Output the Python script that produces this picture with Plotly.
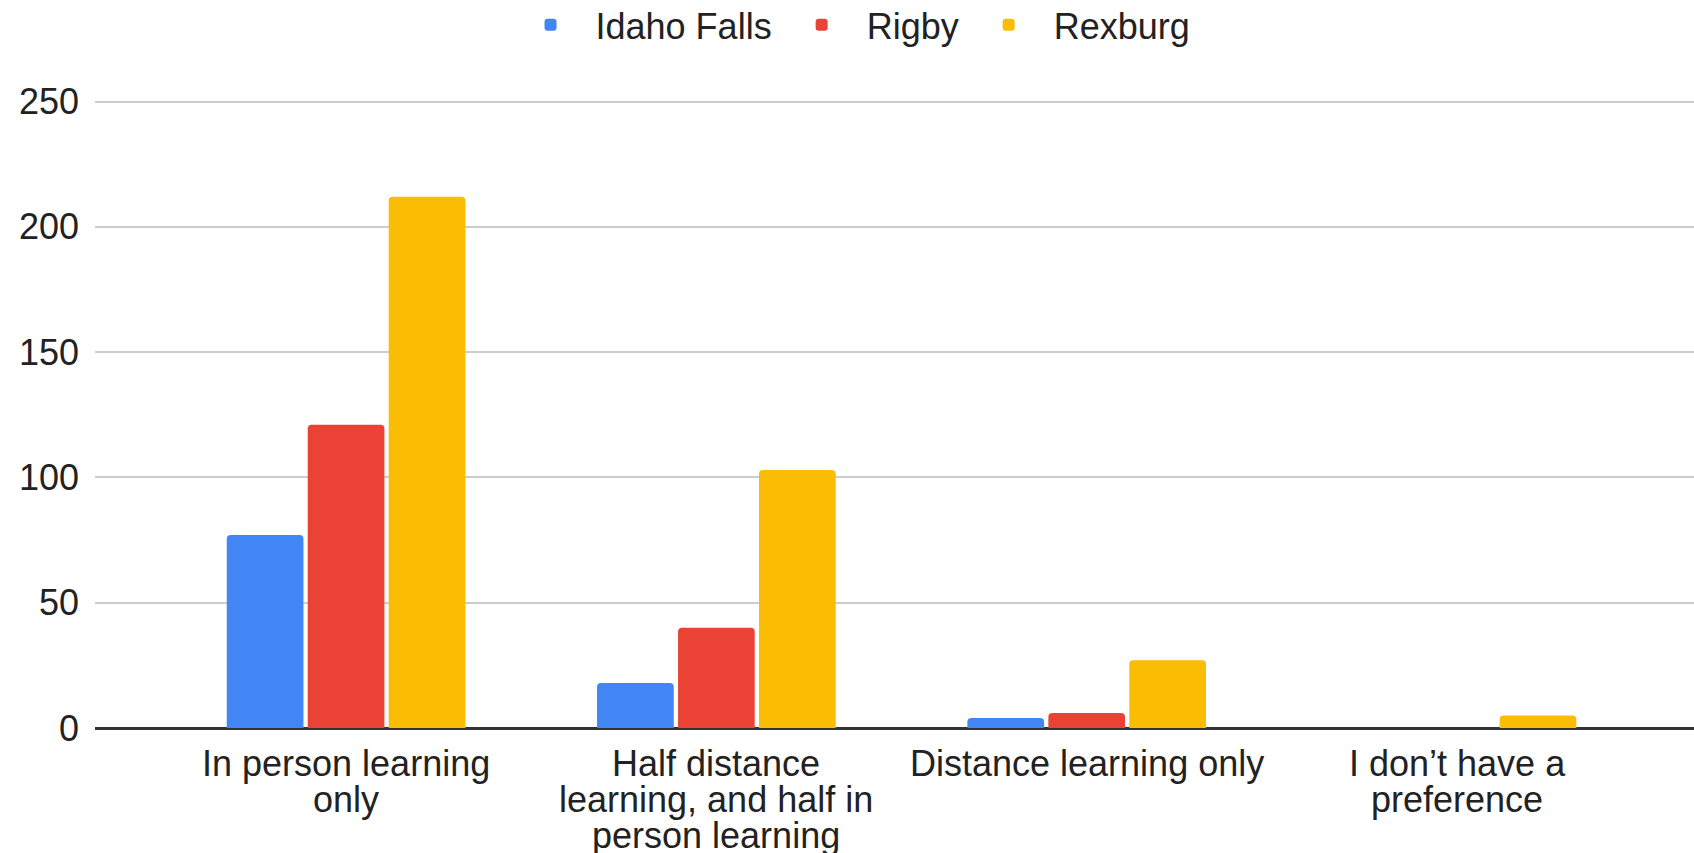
import plotly.graph_objects as go

categories = [
    "In person learning only",
    "Half distance learning, and half in person learning",
    "Distance learning only",
    "I don\u2019t have a preference",
]
category_lines = [
    ["In person learning", "only"],
    ["Half distance", "learning, and half in", "person learning"],
    ["Distance learning only"],
    ["I don\u2019t have a", "preference"],
]
series_names = ["Idaho Falls", "Rigby", "Rexburg"]
idaho_falls = [77, 18, 4, 0]
rigby = [121, 40, 6, 0]
rexburg = [212, 103, 27, 5]
colors = ["#4285F4", "#EA4335", "#FBBC04"]
y_ticks = [0, 50, 100, 150, 200, 250]

FONT = "Arial, Liberation Sans, Helvetica, sans-serif"
TXT = "#222222"

fig = go.Figure()
for name, vals, col in zip(series_names, [idaho_falls, rigby, rexburg], colors):
    fig.add_trace(go.Bar(
        name=name, x=categories, y=vals,
        marker=dict(color=col, line=dict(width=0), cornerradius=4),
    ))

# category labels with tight line spacing, anchored to the category axis
for cat, lines in zip(categories, category_lines):
    for i, line in enumerate(lines):
        fig.add_annotation(
            x=cat, xref="x", y=0, yref="paper", yanchor="middle",
            yshift=-35 - 36 * i, text=line, showarrow=False,
            font=dict(family=FONT, size=36, color=TXT),
        )

fig.update_layout(
    width=1694, height=853,
    margin=dict(l=95, r=0, t=100, b=125, autoexpand=False),
    paper_bgcolor="white", plot_bgcolor="white",
    barmode="group", bargap=0.344, bargroupgap=0.053,
    font=dict(family=FONT, size=36, color=TXT),
    legend=dict(
        orientation="h", x=0.4725, xanchor="center", y=0.971, yanchor="middle",
        yref="container", font=dict(size=36, color=TXT),
        itemwidth=80, bgcolor="rgba(0,0,0,0)",
    ),
    showlegend=True,
)
fig.update_xaxes(
    range=[-0.678, 3.64], showgrid=False, showline=False, ticks="",
    zeroline=False, showticklabels=False, automargin=False,
)
fig.update_yaxes(
    range=[0, 250.6], tickmode="array", tickvals=y_ticks,
    showgrid=True, gridcolor="#CCCCCC", gridwidth=2,
    zeroline=True, zerolinecolor="#333333", zerolinewidth=3,
    showline=False, ticks="", ticklabelstandoff=15, automargin=False,
    tickfont=dict(size=36, color=TXT),
)

fig.write_html(
    "out.html",
    config={"displayModeBar": False},
    post_script="document.body.style.margin='0';document.body.style.overflow='hidden';",
)
